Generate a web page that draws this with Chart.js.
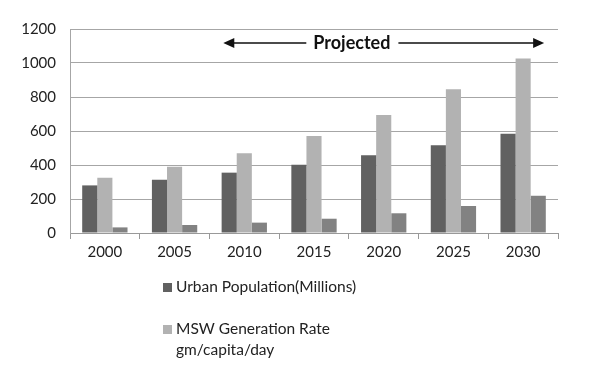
<!DOCTYPE html>
<html>
<head>
<meta charset="utf-8">
<script src="https://cdn.jsdelivr.net/npm/chart.js@4"></script>
<style>
  html, body { margin: 0; padding: 0; background: #fff; }
  #wrap { width: 606px; height: 370px; position: relative; }
</style>
</head>
<body>
<div id="wrap"><canvas id="chart"></canvas></div>
<script>
// chart data
const years = ['2000', '2005', '2010', '2015', '2020', '2025', '2030'];
const urbanPopulation = [280, 313, 355, 402, 457, 516, 584];
const mswRate = [325, 390, 469, 570, 694, 845, 1027];
const mswTotal = [33, 47, 61, 84, 116, 159, 219];
const yTicks = [0, 200, 400, 600, 800, 1000, 1200];
const projectedLabel = 'Projected';

const FONT = "Lato, 'Open Sans', sans-serif";

// arrow + "Projected" above the bars, spanning 2010..2030
const projectedPlugin = {
    id: 'projected',
    afterDraw(chart) {
        const ctx = chart.ctx;
        const x = chart.scales.x;
        const y = 43;
        const left = x.getPixelForValue(2) - 21;
        const right = x.getPixelForValue(6) + 21;
        const mid = x.getPixelForValue(3.5) + 3;
        ctx.save();
        ctx.font = "bold 18px " + FONT;
        ctx.fillStyle = '#111';
        ctx.textAlign = 'center';
        ctx.textBaseline = 'middle';
        const tw = ctx.measureText(projectedLabel).width;
        ctx.fillText(projectedLabel, mid, y);
        ctx.strokeStyle = '#111';
        ctx.lineWidth = 1.5;
        ctx.beginPath();
        ctx.moveTo(left + 8, y);
        ctx.lineTo(mid - tw / 2 - 7, y);
        ctx.moveTo(mid + tw / 2 + 8, y);
        ctx.lineTo(right - 8, y);
        ctx.stroke();
        ctx.beginPath();
        ctx.moveTo(left, y);
        ctx.lineTo(left + 11, y - 5);
        ctx.lineTo(left + 11, y + 5);
        ctx.closePath();
        ctx.moveTo(right, y);
        ctx.lineTo(right - 11, y - 5);
        ctx.lineTo(right - 11, y + 5);
        ctx.closePath();
        ctx.fill();
        ctx.restore();
    }
};

// vertical legend below the axis, only the first two series
const legendPlugin = {
    id: 'stackLegend',
    afterDraw(chart) {
        const ctx = chart.ctx;
        const items = [
            { ds: chart.data.datasets[0], y: 287, lines: [chart.data.datasets[0].label] },
            { ds: chart.data.datasets[1], y: 329, lines: chart.data.datasets[1].label.split('\n') }
        ];
        ctx.save();
        ctx.font = "15.5px " + FONT;
        ctx.textBaseline = 'middle';
        ctx.textAlign = 'left';
        items.forEach(it => {
            ctx.fillStyle = it.ds.backgroundColor;
            ctx.fillRect(163, it.y - 4, 9, 9);
            ctx.fillStyle = '#222';
            it.lines.forEach((t, i) => ctx.fillText(t, 176, it.y + i * 21));
        });
        ctx.restore();
    }
};

new Chart(document.getElementById('chart'), {
    type: 'bar',
    data: {
        labels: years,
        datasets: [
            { label: 'Urban Population(Millions)', data: urbanPopulation, backgroundColor: '#616161' },
            { label: 'MSW Generation Rate\ngm/capita/day', data: mswRate, backgroundColor: '#b2b2b2' },
            { label: 'MSW', data: mswTotal, backgroundColor: '#828282' }
        ]
    },
    options: {
        responsive: true,
        maintainAspectRatio: false,
        animation: false,
        layout: { padding: { top: 29, right: 48, left: 0, bottom: 0 } },
        datasets: { bar: { barPercentage: 1, categoryPercentage: 0.65 } },
        plugins: {
            legend: { display: false },
            tooltip: { enabled: false }
        },
        scales: {
            x: {
                grid: { offset: true, drawOnChartArea: false, tickLength: 6, color: '#999' },
                border: { color: '#999' },
                ticks: { color: '#222', font: { family: FONT, size: 15 }, padding: 4 },
                afterFit(scale) { scale.height = 137; }
            },
            y: {
                min: 0,
                max: 1200,
                afterBuildTicks(scale) { scale.ticks = yTicks.map(v => ({ value: v })); },
                grid: { color: '#a6a6a6', drawTicks: false },
                border: { display: true, color: '#a6a6a6' },
                ticks: {
                    color: '#222',
                    font: { family: FONT, size: 15 },
                    padding: 14,
                    callback: v => String(v)
                },
                afterFit(scale) { scale.width = 70; }
            }
        }
    },
    plugins: [projectedPlugin, legendPlugin]
});
</script>
</body>
</html>
